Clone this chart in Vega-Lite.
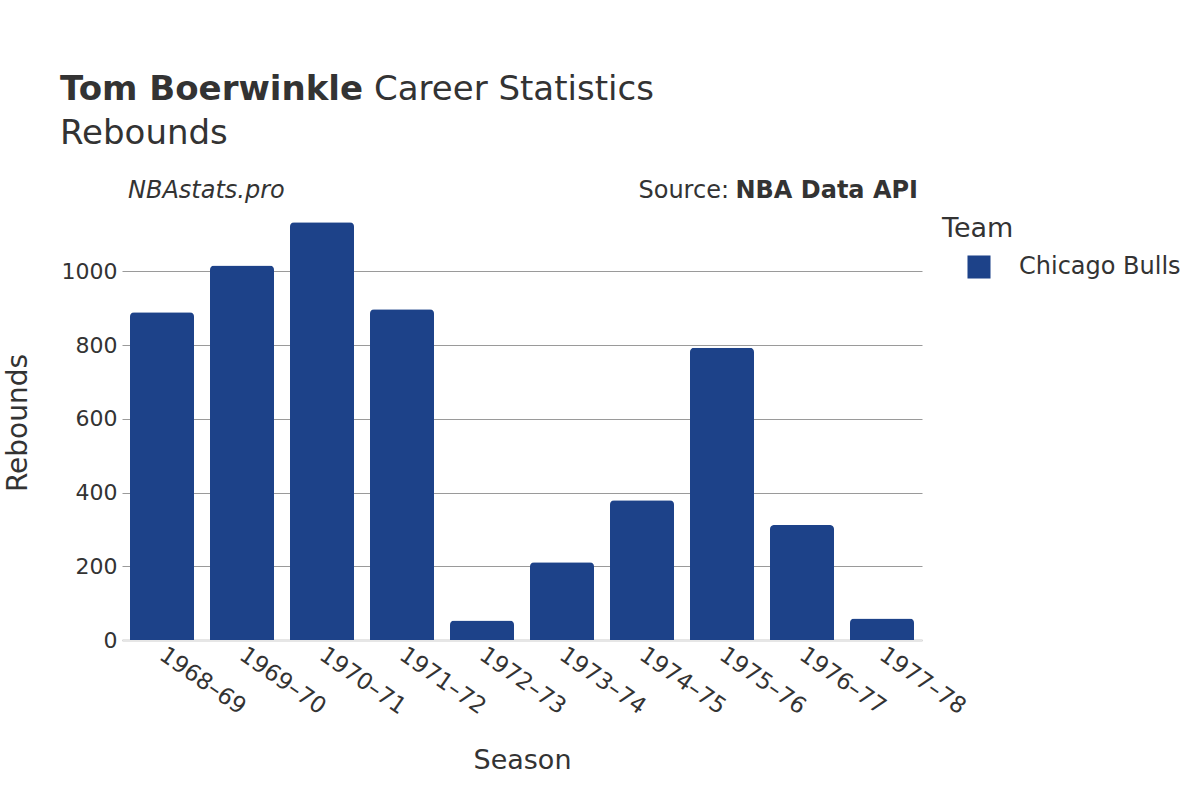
{
  "$schema": "https://vega.github.io/schema/vega-lite/v6.json",
  "width": 800,
  "height": 435,
  "autosize": {"type": "none"},
  "padding": {"left": 122, "top": 205, "right": 278, "bottom": 160},
  "background": "white",
  "title": {
    "text": "Tom Boerwinkle",
    "subtitle": "Rebounds",
    "anchor": "start",
    "frame": "group",
    "dx": -62,
    "offset": -78,
    "font": "DejaVu Sans",
    "fontSize": 34,
    "fontWeight": "bold",
    "color": "#333333",
    "subtitleFont": "DejaVu Sans",
    "subtitleFontSize": 34,
    "subtitleColor": "#333333",
    "subtitlePadding": 10
  },
  "config": {
    "view": {"stroke": null},
    "font": "DejaVu Sans"
  },
  "data": {
    "values": [
      {"Season": "1968–69", "Team": "Chicago Bulls", "Rebounds": 889},
      {"Season": "1969–70", "Team": "Chicago Bulls", "Rebounds": 1016},
      {"Season": "1970–71", "Team": "Chicago Bulls", "Rebounds": 1133},
      {"Season": "1971–72", "Team": "Chicago Bulls", "Rebounds": 897},
      {"Season": "1972–73", "Team": "Chicago Bulls", "Rebounds": 53},
      {"Season": "1973–74", "Team": "Chicago Bulls", "Rebounds": 211},
      {"Season": "1974–75", "Team": "Chicago Bulls", "Rebounds": 379},
      {"Season": "1975–76", "Team": "Chicago Bulls", "Rebounds": 793},
      {"Season": "1976–77", "Team": "Chicago Bulls", "Rebounds": 312},
      {"Season": "1977–78", "Team": "Chicago Bulls", "Rebounds": 58}
    ]
  },
  "layer": [
    {
      "mark": {"type": "bar", "cornerRadiusTopLeft": 4, "cornerRadiusTopRight": 4},
      "encoding": {
        "x": {
          "field": "Season",
          "type": "nominal",
          "sort": null,
          "scale": {"paddingInner": 0.2, "paddingOuter": 0.1},
          "axis": {
            "title": "Season",
            "titleFontSize": 27,
            "titleFontWeight": "normal",
            "titleColor": "#333333",
            "titlePadding": 29,
            "labelFontSize": 23,
            "labelColor": "#333333",
            "labelAngle": 35,
            "labelAlign": "left",
            "labelBaseline": "middle",
            "labelPadding": 12,
            "ticks": false,
            "domain": true,
            "domainColor": "#e6e6e6",
            "domainWidth": 3,
            "grid": false
          }
        },
        "y": {
          "field": "Rebounds",
          "type": "quantitative",
          "scale": {"domain": [0, 1180], "nice": false},
          "axis": {
            "title": "Rebounds",
            "titleFontSize": 28,
            "titleFontWeight": "normal",
            "titleColor": "#333333",
            "titlePadding": 29,
            "labelFontSize": 22,
            "labelColor": "#333333",
            "labelPadding": 5,
            "format": "d",
            "values": [0, 200, 400, 600, 800, 1000],
            "ticks": false,
            "domain": false,
            "grid": true,
            "gridColor": "#9a9a9a",
            "gridWidth": 1
          }
        },
        "color": {
          "field": "Team",
          "type": "nominal",
          "scale": {"range": ["#1d4289"]},
          "legend": {
            "title": "Team",
            "orient": "none",
            "legendX": 820,
            "legendY": 11,
            "titleFontSize": 27,
            "titleFontWeight": "normal",
            "titleColor": "#333333",
            "titlePadding": 12,
            "labelFontSize": 24,
            "labelColor": "#333333",
            "labelOffset": 28,
            "labelLimit": 400,
            "symbolOffset": 25,
            "symbolType": "square",
            "symbolSize": 530,
            "symbolStrokeWidth": 0,
            "padding": 0
          }
        }
      }
    },
    {
      "data": {"values": [{}]},
      "mark": {"type": "text", "align": "left", "baseline": "middle", "fontSize": 34, "color": "#333333", "font": "DejaVu Sans"},
      "encoding": {"x": {"value": 252}, "y": {"value": -115}, "text": {"value": "Career Statistics"}}
    },
    {
      "data": {"values": [{}]},
      "mark": {"type": "text", "align": "left", "baseline": "middle", "fontSize": 24, "fontStyle": "italic", "color": "#333333", "font": "DejaVu Sans"},
      "encoding": {"x": {"value": 6}, "y": {"value": -14}, "text": {"value": "NBAstats.pro"}}
    },
    {
      "data": {"values": [{}]},
      "mark": {"type": "text", "align": "right", "baseline": "middle", "fontSize": 24, "fontWeight": "bold", "color": "#333333", "font": "DejaVu Sans"},
      "encoding": {"x": {"value": 796}, "y": {"value": -14}, "text": {"value": "NBA Data API"}}
    },
    {
      "data": {"values": [{}]},
      "mark": {"type": "text", "align": "right", "baseline": "middle", "fontSize": 24, "color": "#333333", "font": "DejaVu Sans"},
      "encoding": {"x": {"value": 607}, "y": {"value": -14}, "text": {"value": "Source:"}}
    }
  ]
}
